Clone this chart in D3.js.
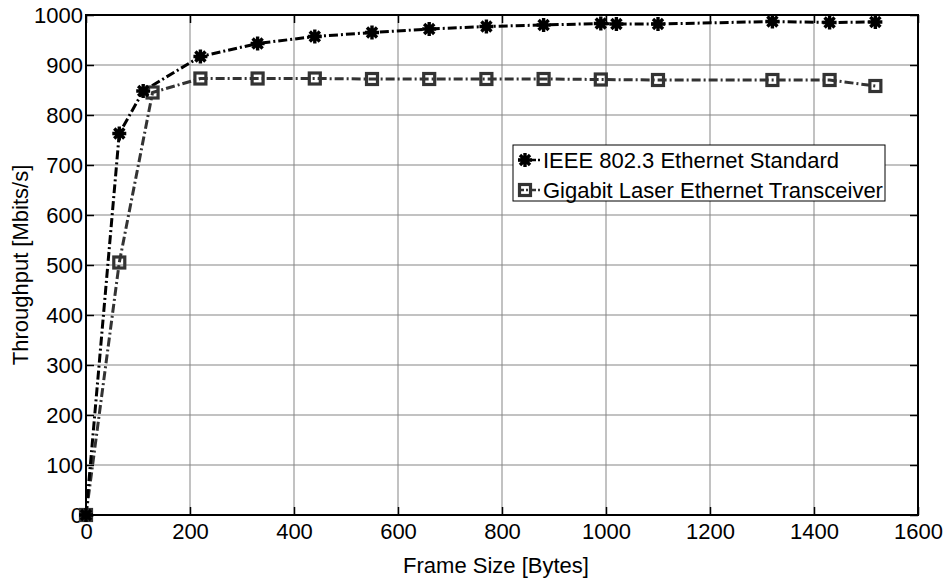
<!DOCTYPE html>
<html>
<head>
<meta charset="utf-8">
<script src="https://cdn.jsdelivr.net/npm/d3@7"></script>
<style>
  body { margin: 0; background: #fff; }
  text { font-family: "Liberation Sans", Arial, sans-serif; fill: #000; }
</style>
</head>
<body>
<div id="chart"></div>
<script>
// values
var seriesNames = ["IEEE 802.3 Ethernet Standard", "Gigabit Laser Ethernet Transceiver"];

var frameSizeIeee = [0, 64, 110, 220, 330, 440, 550, 660, 770, 880, 990, 1020, 1100, 1320, 1430, 1518];
var throughputIeee = [0, 763, 848, 917, 943, 957, 965, 972, 977, 980, 983, 982, 982, 987, 985, 986];

var frameSizeGig = [0, 64, 128, 220, 330, 440, 550, 660, 770, 880, 990, 1100, 1320, 1430, 1518];
var throughputGig = [0, 505, 845, 873, 873, 873, 872, 872, 872, 872, 871, 870, 870, 870, 858];

var xTickValues = [0, 200, 400, 600, 800, 1000, 1200, 1400, 1600];
var yTickValues = [0, 100, 200, 300, 400, 500, 600, 700, 800, 900, 1000];

var xLabel = "Frame Size [Bytes]",
    yLabel = "Throughput [Mbits/s]";

var W = 945, H = 579,
    margin = {top: 15, right: 27, bottom: 64, left: 86},
    width = W - margin.left - margin.right,
    height = H - margin.top - margin.bottom,
    fontSize = 22,
    dash = "9,3,2,3";

var svg = d3.select("#chart").append("svg")
  .attr("width", W).attr("height", H);

svg.append("rect").attr("width", W).attr("height", H).style("fill", "#fff");

var g = svg.append("g").attr("transform", "translate(" + margin.left + "," + margin.top + ")");

var x = d3.scaleLinear().domain([0, 1600]).range([0, width]);
var y = d3.scaleLinear().domain([0, 1000]).range([height, 0]);

// grid
g.append("g").selectAll("line.vgrid")
  .data(xTickValues.slice(1, -1)).enter().append("line")
  .attr("x1", function(d){ return x(d) }).attr("x2", function(d){ return x(d) })
  .attr("y1", 0).attr("y2", height)
  .style("stroke", "#858585").style("stroke-width", 1);

g.append("g").selectAll("line.hgrid")
  .data(yTickValues.slice(1, -1)).enter().append("line")
  .attr("x1", 0).attr("x2", width)
  .attr("y1", function(d){ return y(d) }).attr("y2", function(d){ return y(d) })
  .style("stroke", "#858585").style("stroke-width", 1);

// axes: ticks inside, labels outside
var xAxis = g.append("g").attr("transform", "translate(0," + height + ")")
  .call(d3.axisBottom(x).tickValues(xTickValues).tickSize(-8).tickPadding(8).tickFormat(d3.format("d")));
var xAxisTop = g.append("g")
  .call(d3.axisTop(x).tickValues(xTickValues).tickSize(-8).tickFormat(""));
var yAxis = g.append("g")
  .call(d3.axisLeft(y).tickValues(yTickValues).tickSize(-8).tickPadding(3).tickFormat(d3.format("d")));
var yAxisRight = g.append("g").attr("transform", "translate(" + width + ",0)")
  .call(d3.axisRight(y).tickValues(yTickValues).tickSize(-8).tickFormat(""));

[xAxis, xAxisTop, yAxis, yAxisRight].forEach(function(a){
  a.select(".domain").remove();
  a.selectAll(".tick line").style("stroke", "#000").style("stroke-width", 1.5);
  a.selectAll("text").style("font-size", fontSize + "px")
    .style("font-family", '"Liberation Sans", Arial, sans-serif').attr("fill", "#000");
});
xAxis.selectAll("text").attr("dy", "0.71em");

// series
var ieee = frameSizeIeee.map(function(v, i){ return {x: v, y: throughputIeee[i]} });
var gig = frameSizeGig.map(function(v, i){ return {x: v, y: throughputGig[i]} });

var line = d3.line().x(function(d){ return x(d.x) }).y(function(d){ return y(d.y) });

g.append("path").datum(gig).attr("d", line)
  .style("fill", "none").style("stroke", "#333").style("stroke-width", 3)
  .style("stroke-dasharray", dash);

g.append("path").datum(ieee).attr("d", line)
  .style("fill", "none").style("stroke", "#000").style("stroke-width", 3)
  .style("stroke-dasharray", dash);

// asterisk: plus and cross
function starPath(r){
  var k = r * 0.72;
  return "M" + (-r) + ",0L" + r + ",0M0," + (-r) + "L0," + r +
    "M" + (-k) + "," + (-k) + "L" + k + "," + k + "M" + (-k) + "," + k + "L" + k + "," + (-k);
}

g.selectAll("rect.sq").data(gig).enter().append("rect")
  .attr("class", "sq")
  .attr("x", function(d){ return x(d.x) - 5.5 }).attr("y", function(d){ return y(d.y) - 5.5 })
  .attr("width", 11).attr("height", 11)
  .style("fill", "none").style("stroke", "#333").style("stroke-width", 3.2);

g.selectAll("path.star").data(ieee).enter().append("path")
  .attr("class", "star")
  .attr("transform", function(d){ return "translate(" + x(d.x) + "," + y(d.y) + ")" })
  .attr("d", starPath(7))
  .style("fill", "none").style("stroke", "#000").style("stroke-width", 3.4);

// frame
g.append("rect").attr("width", width).attr("height", height)
  .style("fill", "none").style("stroke", "#000").style("stroke-width", 2);

// axis labels
svg.append("text")
  .attr("x", margin.left + width / 2 - 6).attr("y", 573)
  .attr("text-anchor", "middle").style("font-size", fontSize + "px")
  .text(xLabel);

svg.append("text")
  .attr("transform", "translate(28," + (margin.top + height / 2) + ") rotate(-90)")
  .attr("text-anchor", "middle").style("font-size", fontSize + "px")
  .text(yLabel);

// legend
var legend = svg.append("g").attr("transform", "translate(513,145)");
legend.append("rect").attr("width", 372).attr("height", 56)
  .style("fill", "#fff").style("stroke", "#000").style("stroke-width", 1);

var items = legend.selectAll("g.item").data(seriesNames).enter().append("g")
  .attr("class", "item")
  .attr("transform", function(d, i){ return "translate(0," + (15 + i * 30) + ")" });

items.append("line").attr("x1", 5).attr("x2", 28).attr("y1", 0).attr("y2", 0)
  .style("stroke", function(d, i){ return i ? "#333" : "#000" }).style("stroke-width", 2.5)
  .style("stroke-dasharray", "6,2,2,2");

items.filter(function(d, i){ return i == 0 }).append("path")
  .attr("transform", "translate(12,0)").attr("d", starPath(7))
  .style("fill", "none").style("stroke", "#000").style("stroke-width", 3.4);

items.filter(function(d, i){ return i == 1 }).append("rect")
  .attr("x", 6.5).attr("y", -5.5).attr("width", 11).attr("height", 11)
  .style("fill", "none").style("stroke", "#333").style("stroke-width", 3.2);

items.append("text").attr("x", 30).attr("y", 0).attr("dy", "0.35em")
  .style("font-size", fontSize + "px")
  .text(function(d){ return d });
</script>
</body>
</html>
